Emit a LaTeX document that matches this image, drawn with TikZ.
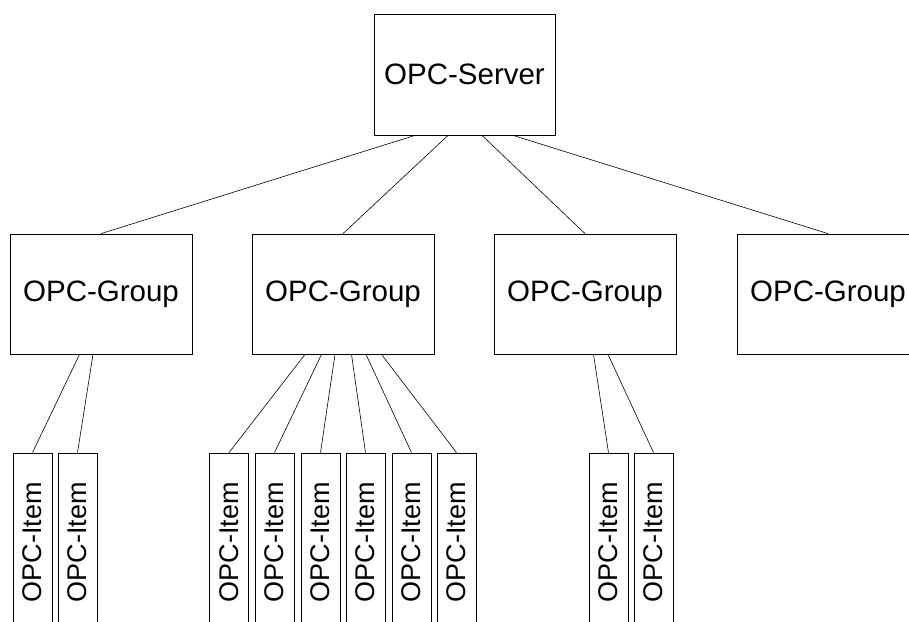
\documentclass[tikz,border=0pt]{standalone}
\usepackage{fontspec}
\setmainfont{Liberation Sans}
\usetikzlibrary{calc}

\tikzset{
	box/.style={draw, line width=.8pt, inner sep=0pt},
	server/.style={box, minimum width=181pt, minimum height=121pt, font=\fontsize{29.5}{34}\selectfont},
	group/.style={box, minimum width=182pt, minimum height=120pt, font=\fontsize{29.5}{34}\selectfont},
	item/.style={box, rotate=90, minimum width=178pt, minimum height=39pt, font=\fontsize{27}{31}\selectfont},
	link/.style={line width=.6pt}
}

\begin{document}
\begin{tikzpicture}[x=1pt, y=-1pt]
		\useasboundingbox (0,0) rectangle (909,621);
		\node[server] (srv) at (464.5, 74.5) {OPC-Server};
		\foreach \g/\x in {1/101, 2/343, 3/585, 4/828}
		{
			\node[group] (g\g) at (\x, 294) {OPC-Group};
		}
		% server -> groups
		\foreach \g/\dx in {1/-49.5, 2/-16.5, 3/17.5, 4/48.5}
		{
			\draw[link] ($(srv.south)+(\dx,0)$) -- (g\g.north);
		}
		% groups -> items
		\foreach \i/\g/\x/\dx in {
			1/1/32.5/-21.5, 2/1/77.5/-8,
			3/2/229/-38, 4/2/274.5/-21.5, 5/2/320.5/-8, 6/2/365.5/8.5, 7/2/411.5/23, 8/2/456.5/38.5,
			9/3/608.5/8.5, 10/3/653.5/23}
		{
			\node[item] (it\i) at (\x, 542) {OPC-Item};
			\draw[link] ($(g\g.south)+(\dx,0)$) -- (it\i.east);
		}
	\end{tikzpicture}
\end{document}
